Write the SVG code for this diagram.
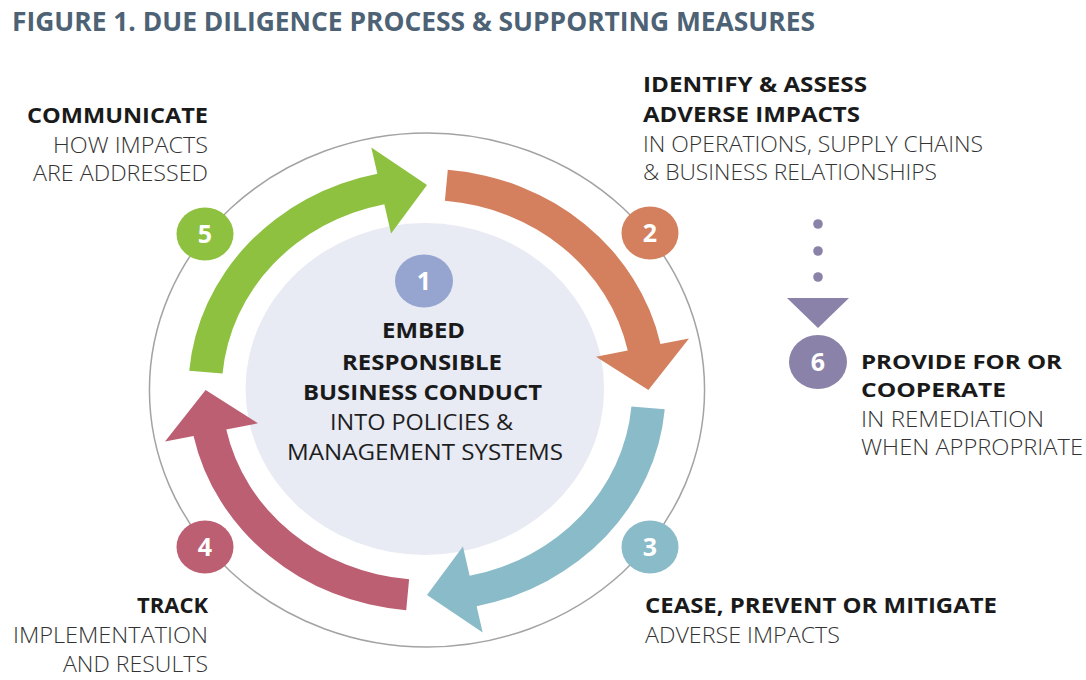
<svg xmlns="http://www.w3.org/2000/svg" xmlns:xlink="http://www.w3.org/1999/xlink" width="1086" height="680" viewBox="0 0 1086 680">
  <style>
    text { font-family: "Open Sans", "Liberation Sans", Arial, sans-serif; }
    .title { font-size: 26px; font-weight: 700; fill: #4d6275; }
    .hb { font-size: 22px; font-weight: 700; fill: #1a1a1a; }
    .hb6 { font-size: 20px; font-weight: 700; fill: #1a1a1a; }
    .hr { font-size: 22px; font-weight: 300; fill: #333333; }
    .cb { font-size: 21px; font-weight: 700; fill: #1a1a1a; }
    .cr { font-size: 21px; font-weight: 400; fill: #1e1e1e; }
    .num { font-size: 25px; font-weight: 700; fill: #ffffff; text-anchor: middle; }
    .ring { fill: none; stroke: #a3a3a3; stroke-width: 1.5; }
  </style>
  <defs>
    <path id="arw" d="M19.26,-220.16 A221,221 0 0 1 216.17,-45.95 L242.58,-51.56 L205,0 L156.50,-33.27 L185.85,-39.50 A190,190 0 0 0 16.56,-189.28 Z"/>
  </defs>
  <rect width="1086" height="680" fill="#ffffff"/>
  <text class="title" x="12" y="31" textLength="803" lengthAdjust="spacingAndGlyphs">FIGURE 1. DUE DILIGENCE PROCESS &amp; SUPPORTING MEASURES</text>

  <g id="cycle" transform="translate(427,390) scale(1.08,1)">
    <circle class="ring" cx="0" cy="0" r="257" vector-effect="non-scaling-stroke"/>
    <circle cx="-2" cy="-1" r="166" fill="#e8eaf4"/>
  </g>

  <g id="connectors">
    <g transform="translate(427,390) scale(1.08,1)">
      <use xlink:href="#arw" href="#arw" transform="rotate(-90)" fill="#8dc13f"/>
      <use xlink:href="#arw" href="#arw" fill="#d4805e"/>
      <use xlink:href="#arw" href="#arw" transform="rotate(90)" fill="#8abbc8"/>
      <use xlink:href="#arw" href="#arw" transform="rotate(180)" fill="#bd5f73"/>
    </g>
    <g fill="#8a82a8">
      <circle cx="818" cy="224" r="4.8"/>
      <circle cx="818" cy="251" r="4.8"/>
      <circle cx="818" cy="277" r="4.8"/>
      <polygon points="787,298 849,298 818,328"/>
    </g>
  </g>

  <g id="node1">
    <ellipse cx="424" cy="281" rx="29" ry="26.5" fill="#96a4d0"/>
    <text class="num" x="424" y="290">1</text>
    <text class="cb" x="382" y="338" textLength="83" lengthAdjust="spacingAndGlyphs">EMBED</text>
    <text class="cb" x="342" y="370" textLength="160" lengthAdjust="spacingAndGlyphs">RESPONSIBLE</text>
    <text class="cb" x="303" y="400" textLength="239" lengthAdjust="spacingAndGlyphs">BUSINESS CONDUCT</text>
    <text class="cr" x="330" y="430" textLength="183" lengthAdjust="spacingAndGlyphs">INTO POLICIES &amp;</text>
    <text class="cr" x="287" y="460" textLength="276" lengthAdjust="spacingAndGlyphs">MANAGEMENT SYSTEMS</text>
  </g>

  <g id="node2">
    <ellipse cx="650" cy="233" rx="28.5" ry="26.5" fill="#d4805e"/>
    <text class="num" x="650" y="242">2</text>
    <text class="hb" x="643" y="92" textLength="224" lengthAdjust="spacingAndGlyphs">IDENTIFY &amp; ASSESS</text>
    <text class="hb" x="643" y="122" textLength="217" lengthAdjust="spacingAndGlyphs">ADVERSE IMPACTS</text>
    <text class="hr" x="643" y="152" textLength="340" lengthAdjust="spacingAndGlyphs">IN OPERATIONS, SUPPLY CHAINS</text>
    <text class="hr" x="643" y="180" textLength="294" lengthAdjust="spacingAndGlyphs">&amp; BUSINESS RELATIONSHIPS</text>
  </g>

  <g id="node3">
    <ellipse cx="650" cy="547" rx="28.5" ry="26.5" fill="#8abbc8"/>
    <text class="num" x="650" y="556">3</text>
    <text class="hb" x="645" y="613" textLength="352" lengthAdjust="spacingAndGlyphs">CEASE, PREVENT OR MITIGATE</text>
    <text class="hr" x="645" y="643" textLength="195" lengthAdjust="spacingAndGlyphs">ADVERSE IMPACTS</text>
  </g>

  <g id="node4">
    <ellipse cx="205" cy="547" rx="28.5" ry="26.5" fill="#bd5f73"/>
    <text class="num" x="205" y="556">4</text>
    <text class="hb" x="137" y="613" textLength="71" lengthAdjust="spacingAndGlyphs">TRACK</text>
    <text class="hr" x="13" y="643" textLength="195" lengthAdjust="spacingAndGlyphs">IMPLEMENTATION</text>
    <text class="hr" x="63" y="672" textLength="145" lengthAdjust="spacingAndGlyphs">AND RESULTS</text>
  </g>

  <g id="node5">
    <ellipse cx="205" cy="234" rx="28.5" ry="26.5" fill="#8dc13f"/>
    <text class="num" x="205" y="243">5</text>
    <text class="hb" x="27" y="123" textLength="181" lengthAdjust="spacingAndGlyphs">COMMUNICATE</text>
    <text class="hr" x="53" y="153" textLength="155" lengthAdjust="spacingAndGlyphs">HOW IMPACTS</text>
    <text class="hr" x="33" y="181" textLength="175" lengthAdjust="spacingAndGlyphs">ARE ADDRESSED</text>
  </g>

  <g id="node6">
    <ellipse cx="818" cy="362" rx="29" ry="27" fill="#8a82a8"/>
    <text class="num" x="818" y="371">6</text>
    <text class="hb6" x="861" y="369" textLength="201" lengthAdjust="spacingAndGlyphs">PROVIDE FOR OR</text>
    <text class="hb6" x="861" y="397" textLength="145" lengthAdjust="spacingAndGlyphs">COOPERATE</text>
    <text class="hr" x="861" y="427" textLength="183" lengthAdjust="spacingAndGlyphs">IN REMEDIATION</text>
    <text class="hr" x="861" y="455" textLength="222" lengthAdjust="spacingAndGlyphs">WHEN APPROPRIATE</text>
  </g>
</svg>
